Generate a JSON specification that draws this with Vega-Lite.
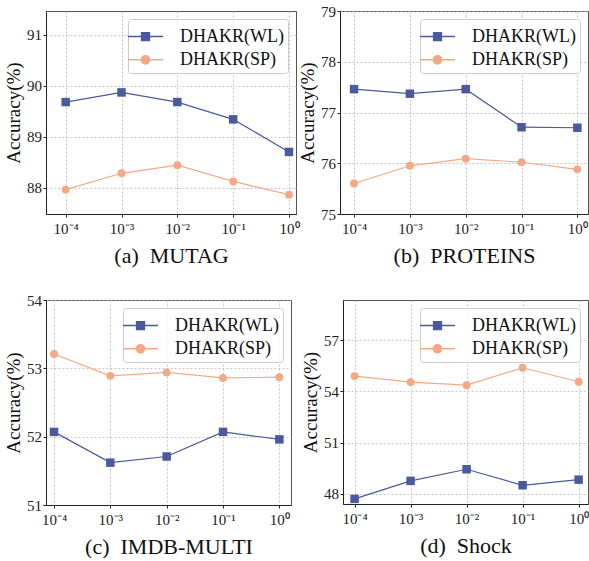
{
  "$schema": "https://vega.github.io/schema/vega-lite/v6.json",
  "background": "white",
  "padding": {"left": 4, "top": 3, "right": 0, "bottom": 0},
  "data": {"values": [
    {"panel": "MUTAG", "lambda": 0.0001, "series": "DHAKR(WL)", "acc": 89.68},
    {"panel": "MUTAG", "lambda": 0.001, "series": "DHAKR(WL)", "acc": 89.87},
    {"panel": "MUTAG", "lambda": 0.01, "series": "DHAKR(WL)", "acc": 89.68},
    {"panel": "MUTAG", "lambda": 0.1, "series": "DHAKR(WL)", "acc": 89.34},
    {"panel": "MUTAG", "lambda": 1, "series": "DHAKR(WL)", "acc": 88.70},
    {"panel": "MUTAG", "lambda": 0.0001, "series": "DHAKR(SP)", "acc": 87.96},
    {"panel": "MUTAG", "lambda": 0.001, "series": "DHAKR(SP)", "acc": 88.28},
    {"panel": "MUTAG", "lambda": 0.01, "series": "DHAKR(SP)", "acc": 88.44},
    {"panel": "MUTAG", "lambda": 0.1, "series": "DHAKR(SP)", "acc": 88.12},
    {"panel": "MUTAG", "lambda": 1, "series": "DHAKR(SP)", "acc": 87.86},
    {"panel": "PROTEINS", "lambda": 0.0001, "series": "DHAKR(WL)", "acc": 77.46},
    {"panel": "PROTEINS", "lambda": 0.001, "series": "DHAKR(WL)", "acc": 77.37},
    {"panel": "PROTEINS", "lambda": 0.01, "series": "DHAKR(WL)", "acc": 77.46},
    {"panel": "PROTEINS", "lambda": 0.1, "series": "DHAKR(WL)", "acc": 76.71},
    {"panel": "PROTEINS", "lambda": 1, "series": "DHAKR(WL)", "acc": 76.70},
    {"panel": "PROTEINS", "lambda": 0.0001, "series": "DHAKR(SP)", "acc": 75.60},
    {"panel": "PROTEINS", "lambda": 0.001, "series": "DHAKR(SP)", "acc": 75.95},
    {"panel": "PROTEINS", "lambda": 0.01, "series": "DHAKR(SP)", "acc": 76.09},
    {"panel": "PROTEINS", "lambda": 0.1, "series": "DHAKR(SP)", "acc": 76.02},
    {"panel": "PROTEINS", "lambda": 1, "series": "DHAKR(SP)", "acc": 75.88},
    {"panel": "IMDB-MULTI", "lambda": 0.0001, "series": "DHAKR(WL)", "acc": 52.07},
    {"panel": "IMDB-MULTI", "lambda": 0.001, "series": "DHAKR(WL)", "acc": 51.62},
    {"panel": "IMDB-MULTI", "lambda": 0.01, "series": "DHAKR(WL)", "acc": 51.71},
    {"panel": "IMDB-MULTI", "lambda": 0.1, "series": "DHAKR(WL)", "acc": 52.07},
    {"panel": "IMDB-MULTI", "lambda": 1, "series": "DHAKR(WL)", "acc": 51.96},
    {"panel": "IMDB-MULTI", "lambda": 0.0001, "series": "DHAKR(SP)", "acc": 53.21},
    {"panel": "IMDB-MULTI", "lambda": 0.001, "series": "DHAKR(SP)", "acc": 52.89},
    {"panel": "IMDB-MULTI", "lambda": 0.01, "series": "DHAKR(SP)", "acc": 52.94},
    {"panel": "IMDB-MULTI", "lambda": 0.1, "series": "DHAKR(SP)", "acc": 52.86},
    {"panel": "IMDB-MULTI", "lambda": 1, "series": "DHAKR(SP)", "acc": 52.87},
    {"panel": "Shock", "lambda": 0.0001, "series": "DHAKR(WL)", "acc": 47.69},
    {"panel": "Shock", "lambda": 0.001, "series": "DHAKR(WL)", "acc": 48.75},
    {"panel": "Shock", "lambda": 0.01, "series": "DHAKR(WL)", "acc": 49.43},
    {"panel": "Shock", "lambda": 0.1, "series": "DHAKR(WL)", "acc": 48.49},
    {"panel": "Shock", "lambda": 1, "series": "DHAKR(WL)", "acc": 48.82},
    {"panel": "Shock", "lambda": 0.0001, "series": "DHAKR(SP)", "acc": 54.90},
    {"panel": "Shock", "lambda": 0.001, "series": "DHAKR(SP)", "acc": 54.55},
    {"panel": "Shock", "lambda": 0.01, "series": "DHAKR(SP)", "acc": 54.37},
    {"panel": "Shock", "lambda": 0.1, "series": "DHAKR(SP)", "acc": 55.39},
    {"panel": "Shock", "lambda": 1, "series": "DHAKR(SP)", "acc": 54.57}
  ]},
  "spacing": 25,
  "resolve": {"scale": {"color": "independent", "shape": "independent", "stroke": "independent"}, "legend": {"color": "independent", "shape": "independent", "stroke": "independent"}},
  "vconcat": [
    {
      "bounds": "flush",
      "spacing": 44,
      "resolve": {"scale": {"color": "independent", "shape": "independent", "stroke": "independent"}, "legend": {"color": "independent", "shape": "independent", "stroke": "independent"}},
      "hconcat": [
        {
          "width": 250, "height": 203,
          "transform": [{"filter": "datum.panel == 'MUTAG'"}],
          "encoding": {
            "x": {"field": "lambda", "type": "quantitative", "scale": {"type": "log", "domain": [0.0000444, 1.334], "nice": false},
                  "axis": {"values": [0.0001, 0.001, 0.01, 0.1, 1], "labelExpr": "datum.value < 0.0005 ? '10⁻⁴' : datum.value < 0.005 ? '10⁻³' : datum.value < 0.05 ? '10⁻²' : datum.value < 0.5 ? '10⁻¹' : '10⁰'", "title": "(a)\u00a0 MUTAG"}},
            "y": {"field": "acc", "type": "quantitative", "scale": {"domain": [87.48, 91.47], "nice": false, "zero": false},
                  "axis": {"values": [88, 89, 90, 91], "title": "Accuracy(%)"}}
          },
          "layer": [
            {"transform": [{"filter": "datum.series == 'DHAKR(WL)'"}], "mark": {"type": "line", "strokeWidth": 1.2, "color": "#4A5A9C"}, "encoding": {}},
            {"transform": [{"filter": "datum.series == 'DHAKR(SP)'"}], "mark": {"type": "line", "strokeWidth": 1.2, "color": "#F3AA84"}, "encoding": {}},
            {"transform": [{"filter": "datum.series == 'DHAKR(WL)'"}], "mark": {"type": "point", "shape": "square", "filled": true, "size": 72, "color": "#4A5A9C", "opacity": 1}},
            {"transform": [{"filter": "datum.series == 'DHAKR(SP)'"}], "mark": {"type": "point", "shape": "circle", "filled": true, "size": 62, "color": "#F3AA84", "opacity": 1}},
            {"transform": [{"filter": "false"}], "mark": {"type": "point", "filled": true, "opacity": 1, "strokeWidth": 1.5},
             "encoding": {
               "color": {"field": "series", "type": "nominal", "scale": {"domain": ["DHAKR(WL)", "DHAKR(SP)"], "range": ["#4A5A9C", "#F3AA84"]}, "legend": {"title": null}},
               "stroke": {"field": "series", "type": "nominal", "scale": {"domain": ["DHAKR(WL)", "DHAKR(SP)"], "range": ["#4A5A9C", "#F3AA84"]}, "legend": {"title": null}},
               "shape": {"field": "series", "type": "nominal", "scale": {"domain": ["DHAKR(WL)", "DHAKR(SP)"], "range": ["M-1.4,0L1.4,0M-0.31,-0.31L0.31,-0.31L0.31,0.31L-0.31,0.31Z", "M-1.4,0L1.4,0M0.33,0A0.33,0.33,0,1,1,-0.33,0A0.33,0.33,0,1,1,0.33,0Z"]}, "legend": {"title": null}}
             }}
          ]
        },
        {
          "width": 248, "height": 203,
          "transform": [{"filter": "datum.panel == 'PROTEINS'"}],
          "encoding": {
            "x": {"field": "lambda", "type": "quantitative", "scale": {"type": "log", "domain": [0.000056, 1.55], "nice": false},
                  "axis": {"values": [0.0001, 0.001, 0.01, 0.1, 1], "labelExpr": "datum.value < 0.0005 ? '10⁻⁴' : datum.value < 0.005 ? '10⁻³' : datum.value < 0.05 ? '10⁻²' : datum.value < 0.5 ? '10⁻¹' : '10⁰'", "title": "(b)\u00a0 PROTEINS"}},
            "y": {"field": "acc", "type": "quantitative", "scale": {"domain": [75, 79], "nice": false, "zero": false},
                  "axis": {"values": [75, 76, 77, 78, 79], "title": "Accuracy(%)"}}
          },
          "layer": [
            {"transform": [{"filter": "datum.series == 'DHAKR(WL)'"}], "mark": {"type": "line", "strokeWidth": 1.2, "color": "#4A5A9C"}, "encoding": {}},
            {"transform": [{"filter": "datum.series == 'DHAKR(SP)'"}], "mark": {"type": "line", "strokeWidth": 1.2, "color": "#F3AA84"}, "encoding": {}},
            {"transform": [{"filter": "datum.series == 'DHAKR(WL)'"}], "mark": {"type": "point", "shape": "square", "filled": true, "size": 72, "color": "#4A5A9C", "opacity": 1}},
            {"transform": [{"filter": "datum.series == 'DHAKR(SP)'"}], "mark": {"type": "point", "shape": "circle", "filled": true, "size": 62, "color": "#F3AA84", "opacity": 1}},
            {"transform": [{"filter": "false"}], "mark": {"type": "point", "filled": true, "opacity": 1, "strokeWidth": 1.5},
             "encoding": {
               "color": {"field": "series", "type": "nominal", "scale": {"domain": ["DHAKR(WL)", "DHAKR(SP)"], "range": ["#4A5A9C", "#F3AA84"]}, "legend": {"title": null}},
               "stroke": {"field": "series", "type": "nominal", "scale": {"domain": ["DHAKR(WL)", "DHAKR(SP)"], "range": ["#4A5A9C", "#F3AA84"]}, "legend": {"title": null}},
               "shape": {"field": "series", "type": "nominal", "scale": {"domain": ["DHAKR(WL)", "DHAKR(SP)"], "range": ["M-1.4,0L1.4,0M-0.31,-0.31L0.31,-0.31L0.31,0.31L-0.31,0.31Z", "M-1.4,0L1.4,0M0.33,0A0.33,0.33,0,1,1,-0.33,0A0.33,0.33,0,1,1,0.33,0Z"]}, "legend": {"title": null}}
             }}
          ]
        }
      ]
    },
    {
      "bounds": "flush",
      "spacing": 52,
      "resolve": {"scale": {"color": "independent", "shape": "independent", "stroke": "independent"}, "legend": {"color": "independent", "shape": "independent", "stroke": "independent"}},
      "hconcat": [
        {
          "width": 245, "height": 205,
          "transform": [{"filter": "datum.panel == 'IMDB-MULTI'"}],
          "encoding": {
            "x": {"field": "lambda", "type": "quantitative", "scale": {"type": "log", "domain": [0.0000721, 1.61], "nice": false},
                  "axis": {"values": [0.0001, 0.001, 0.01, 0.1, 1], "labelExpr": "datum.value < 0.0005 ? '10⁻⁴' : datum.value < 0.005 ? '10⁻³' : datum.value < 0.05 ? '10⁻²' : datum.value < 0.5 ? '10⁻¹' : '10⁰'", "title": "(c)\u00a0 IMDB-MULTI"}},
            "y": {"field": "acc", "type": "quantitative", "scale": {"domain": [51, 54], "nice": false, "zero": false},
                  "axis": {"values": [51, 52, 53, 54], "title": "Accuracy(%)"}}
          },
          "layer": [
            {"transform": [{"filter": "datum.series == 'DHAKR(WL)'"}], "mark": {"type": "line", "strokeWidth": 1.2, "color": "#4A5A9C"}, "encoding": {}},
            {"transform": [{"filter": "datum.series == 'DHAKR(SP)'"}], "mark": {"type": "line", "strokeWidth": 1.2, "color": "#F3AA84"}, "encoding": {}},
            {"transform": [{"filter": "datum.series == 'DHAKR(WL)'"}], "mark": {"type": "point", "shape": "square", "filled": true, "size": 72, "color": "#4A5A9C", "opacity": 1}},
            {"transform": [{"filter": "datum.series == 'DHAKR(SP)'"}], "mark": {"type": "point", "shape": "circle", "filled": true, "size": 62, "color": "#F3AA84", "opacity": 1}},
            {"transform": [{"filter": "false"}], "mark": {"type": "point", "filled": true, "opacity": 1, "strokeWidth": 1.5},
             "encoding": {
               "color": {"field": "series", "type": "nominal", "scale": {"domain": ["DHAKR(WL)", "DHAKR(SP)"], "range": ["#4A5A9C", "#F3AA84"]}, "legend": {"title": null}},
               "stroke": {"field": "series", "type": "nominal", "scale": {"domain": ["DHAKR(WL)", "DHAKR(SP)"], "range": ["#4A5A9C", "#F3AA84"]}, "legend": {"title": null}},
               "shape": {"field": "series", "type": "nominal", "scale": {"domain": ["DHAKR(WL)", "DHAKR(SP)"], "range": ["M-1.4,0L1.4,0M-0.31,-0.31L0.31,-0.31L0.31,0.31L-0.31,0.31Z", "M-1.4,0L1.4,0M0.33,0A0.33,0.33,0,1,1,-0.33,0A0.33,0.33,0,1,1,0.33,0Z"]}, "legend": {"title": null}}
             }}
          ]
        },
        {
          "width": 245, "height": 204,
          "transform": [{"filter": "datum.panel == 'Shock'"}],
          "encoding": {
            "x": {"field": "lambda", "type": "quantitative", "scale": {"type": "log", "domain": [0.0000621, 1.47], "nice": false},
                  "axis": {"values": [0.0001, 0.001, 0.01, 0.1, 1], "labelExpr": "datum.value < 0.0005 ? '10⁻⁴' : datum.value < 0.005 ? '10⁻³' : datum.value < 0.05 ? '10⁻²' : datum.value < 0.5 ? '10⁻¹' : '10⁰'", "title": "(d)\u00a0 Shock"}},
            "y": {"field": "acc", "type": "quantitative", "scale": {"domain": [47.39, 59.37], "nice": false, "zero": false},
                  "axis": {"values": [48, 51, 54, 57], "title": "Accuracy(%)"}}
          },
          "layer": [
            {"transform": [{"filter": "datum.series == 'DHAKR(WL)'"}], "mark": {"type": "line", "strokeWidth": 1.2, "color": "#4A5A9C"}, "encoding": {}},
            {"transform": [{"filter": "datum.series == 'DHAKR(SP)'"}], "mark": {"type": "line", "strokeWidth": 1.2, "color": "#F3AA84"}, "encoding": {}},
            {"transform": [{"filter": "datum.series == 'DHAKR(WL)'"}], "mark": {"type": "point", "shape": "square", "filled": true, "size": 72, "color": "#4A5A9C", "opacity": 1}},
            {"transform": [{"filter": "datum.series == 'DHAKR(SP)'"}], "mark": {"type": "point", "shape": "circle", "filled": true, "size": 62, "color": "#F3AA84", "opacity": 1}},
            {"transform": [{"filter": "false"}], "mark": {"type": "point", "filled": true, "opacity": 1, "strokeWidth": 1.5},
             "encoding": {
               "color": {"field": "series", "type": "nominal", "scale": {"domain": ["DHAKR(WL)", "DHAKR(SP)"], "range": ["#4A5A9C", "#F3AA84"]}, "legend": {"title": null}},
               "stroke": {"field": "series", "type": "nominal", "scale": {"domain": ["DHAKR(WL)", "DHAKR(SP)"], "range": ["#4A5A9C", "#F3AA84"]}, "legend": {"title": null}},
               "shape": {"field": "series", "type": "nominal", "scale": {"domain": ["DHAKR(WL)", "DHAKR(SP)"], "range": ["M-1.4,0L1.4,0M-0.31,-0.31L0.31,-0.31L0.31,0.31L-0.31,0.31Z", "M-1.4,0L1.4,0M0.33,0A0.33,0.33,0,1,1,-0.33,0A0.33,0.33,0,1,1,0.33,0Z"]}, "legend": {"title": null}}
             }}
          ]
        }
      ]
    }
  ],
  "config": {
    "font": "Liberation Serif",
    "view": {"stroke": "#555555", "strokeWidth": 1},
    "axis": {"labelFont": "Liberation Serif", "titleFont": "Liberation Serif", "labelColor": "#222222", "titleColor": "#111111", "titleFontWeight": "normal",
             "grid": true, "gridColor": "#b8b8b8", "gridDash": [2, 2], "gridWidth": 0.8,
             "domainColor": "#222222", "domainWidth": 1, "tickColor": "#222222", "tickSize": 3, "labelPadding": 1.5},
    "axisX": {"labelFontSize": 15, "titleFontSize": 22, "titlePadding": 9, "labelPadding": 4},
    "axisY": {"labelFontSize": 15, "titleFontSize": 19, "titlePadding": 3},
    "legend": {"orient": "top-right", "offset": 8, "symbolSize": 625, "symbolStrokeWidth": 1.5, "labelFont": "Liberation Serif", "labelFontSize": 18, "labelColor": "#111111", "labelOffset": 21, "labelLimit": 300, "rowPadding": 0.3, "padding": 4, "strokeColor": "#cccccc", "fillColor": "rgba(255,255,255,0.85)", "cornerRadius": 3}
  }
}
